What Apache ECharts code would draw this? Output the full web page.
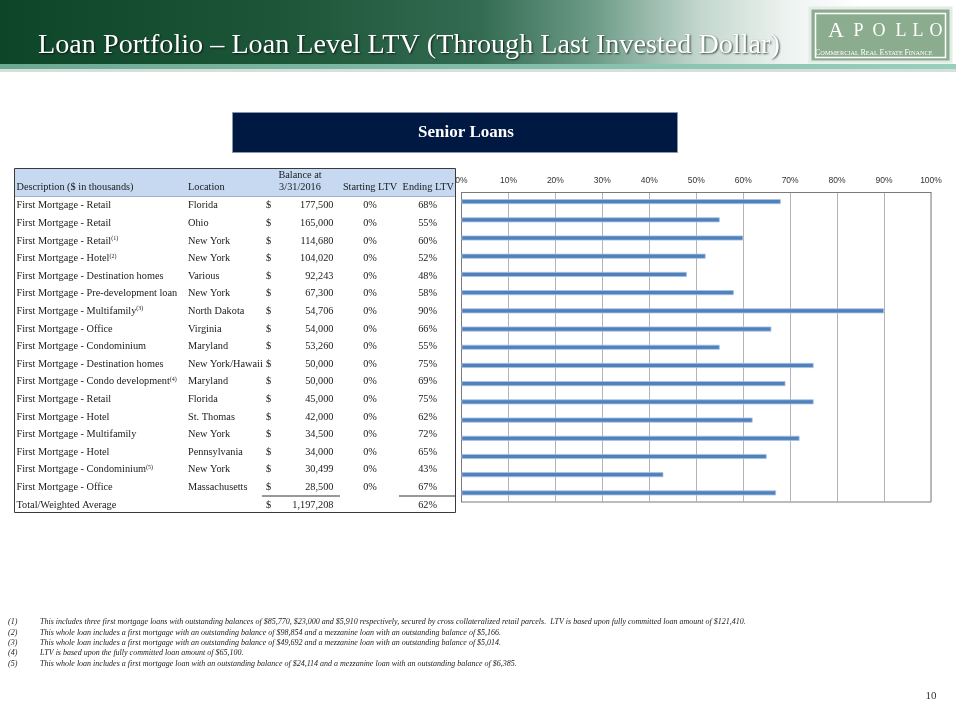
<!DOCTYPE html>
<html>
<head>
<meta charset="utf-8">
<title>Loan Portfolio – Loan Level LTV</title>
<style>
  html, body { margin: 0; padding: 0; background: #fff; }
  #chart { width: 960px; height: 720px; }
</style>
<script src="https://cdn.jsdelivr.net/npm/echarts@6/dist/echarts.min.js"></script>
</head>
<body>
<div id="chart"></div>
<script>
// table / chart data
const descriptions = [
    'First Mortgage - Retail', 'First Mortgage - Retail', 'First Mortgage - Retail',
    'First Mortgage - Hotel', 'First Mortgage - Destination homes', 'First Mortgage - Pre-development loan',
    'First Mortgage - Multifamily', 'First Mortgage - Office', 'First Mortgage - Condominium',
    'First Mortgage - Destination homes', 'First Mortgage - Condo development', 'First Mortgage - Retail',
    'First Mortgage - Hotel', 'First Mortgage - Multifamily', 'First Mortgage - Hotel',
    'First Mortgage - Condominium', 'First Mortgage - Office'
];
const notes = ['', '', '1', '2', '', '', '3', '', '', '', '4', '', '', '', '', '5', ''];
const locations = [
    'Florida', 'Ohio', 'New York', 'New York', 'Various', 'New York', 'North Dakota', 'Virginia',
    'Maryland', 'New York/Hawaii', 'Maryland', 'Florida', 'St. Thomas', 'New York', 'Pennsylvania',
    'New York', 'Massachusetts'
];
const balances = [177500, 165000, 114680, 104020, 92243, 67300, 54706, 54000, 53260, 50000, 50000, 45000, 42000, 34500, 34000, 30499, 28500];
const startLtv = [0, 0, 0, 0, 0, 0, 0, 0, 0, 0, 0, 0, 0, 0, 0, 0, 0];
const endLtv = [68, 55, 60, 52, 48, 58, 90, 66, 55, 75, 69, 75, 62, 72, 65, 43, 67];
const totalBalance = 1197208;
const totalLtv = 62;

const footnotes = [
    'This includes three first mortgage loans with outstanding balances of $85,770, $23,000 and $5,910 respectively, secured by cross collateralized retail parcels.  LTV is based upon fully committed loan amount of $121,410.',
    'This whole loan includes a first mortgage with an outstanding balance of $98,854 and a mezzanine loan with an outstanding balance of $5,166.',
    'This whole loan includes a first mortgage with an outstanding balance of $49,692 and a mezzanine loan with an outstanding balance of $5,014.',
    'LTV is based upon the fully committed loan amount of $65,100.',
    'This whole loan includes a first mortgage loan with an outstanding balance of $24,114 and a mezzanine loan with an outstanding balance of $6,385.'
];

const serif = '"Liberation Serif", "Times New Roman", serif';
const tableFont = 10.3;
const rowY = (i) => 205.7 + 17.6 * i;
const fmt = (v) => v.toLocaleString('en-US');

const chart = echarts.init(document.getElementById('chart'));

// header banner + logo
let graphics = [
    {
        type: 'rect', shape: { x: 0, y: 0, width: 960, height: 64 }, silent: true,
        style: {
            fill: new echarts.graphic.LinearGradient(0, 0, 1, 0, [
                { offset: 0, color: '#0D4529' },
                { offset: 0.3, color: '#1E5639' },
                { offset: 0.5, color: '#336B52' },
                { offset: 0.62, color: '#6E9C89' },
                { offset: 0.73, color: '#C3D7CE' },
                { offset: 0.82, color: '#EDF3F0' },
                { offset: 0.9, color: '#FFFFFF' },
                { offset: 1, color: '#FFFFFF' }
            ])
        }
    },
    {
        type: 'rect', shape: { x: 0, y: 64, width: 956, height: 5 }, silent: true,
        style: {
            fill: new echarts.graphic.LinearGradient(0, 0, 1, 0, [
                { offset: 0, color: '#6AAA93' },
                { offset: 1, color: '#98CFBD' }
            ])
        }
    },
    { type: 'rect', shape: { x: 0, y: 69, width: 956, height: 3 }, silent: true, style: { fill: '#D7DFDB' } },
    {
        type: 'text', x: 38, y: 46, silent: true,
        style: {
            text: 'Loan Portfolio – Loan Level LTV (Through Last Invested Dollar)',
            font: '28.2px ' + serif, fill: '#FFFFFF', verticalAlign: 'middle',
            textShadowColor: 'rgba(0,0,0,0.7)', textShadowBlur: 2, textShadowOffsetX: 1, textShadowOffsetY: 1
        }
    },
    { type: 'rect', shape: { x: 810, y: 8, width: 141, height: 54 }, silent: true, style: { fill: '#8BAC8E', stroke: '#E3ECE6', lineWidth: 3 } },
    { type: 'rect', shape: { x: 815.5, y: 13.5, width: 130, height: 44 }, silent: true, style: { fill: null, stroke: '#FFFFFF', lineWidth: 1.5 } },
    {
        type: 'text', x: 815, y: 53, silent: true,
        style: {
            text: '{b|C}{s|OMMERCIAL} {b|R}{s|EAL} {b|E}{s|STATE} {b|F}{s|INANCE}',
            font: '6.3px ' + serif, fill: '#FFFFFF', verticalAlign: 'middle',
            rich: {
                b: { fontSize: 8, fontFamily: serif, fill: '#FFFFFF' },
                s: { fontSize: 6.3, fontFamily: serif, fill: '#FFFFFF' }
            }
        }
    }
];
const logoLetters = ['A', 'P', 'O', 'L', 'L', 'O'];
const logoX = [836, 858.5, 879, 901, 918, 936];
logoLetters.forEach((ch, i) => {
    graphics.push({
        type: 'text', x: logoX[i], y: i === 0 ? 31 : 31.5, silent: true,
        style: { text: ch, font: (i === 0 ? '22px ' : '18px ') + serif, fill: '#FFFFFF', align: 'center', verticalAlign: 'middle' }
    });
});

// Senior Loans bar
graphics.push(
    { type: 'rect', shape: { x: 232.5, y: 112.5, width: 445, height: 40 }, silent: true, style: { fill: '#001943', stroke: '#8896AD', lineWidth: 1 } },
    {
        type: 'text', x: 466, y: 133, silent: true,
        style: { text: 'Senior Loans', font: 'bold 17px ' + serif, fill: '#FFFFFF', align: 'center', verticalAlign: 'middle' }
    }
);

// table frame + header
graphics.push(
    { type: 'rect', shape: { x: 14.5, y: 168.5, width: 441, height: 28 }, silent: true, style: { fill: '#C6D9F1' } },
    { type: 'rect', shape: { x: 14.5, y: 168.5, width: 441, height: 344 }, silent: true, style: { fill: null, stroke: '#3A3A3A', lineWidth: 1 } },
    { type: 'line', shape: { x1: 15, y1: 196.5, x2: 455, y2: 196.5 }, silent: true, style: { stroke: '#9FB3CC', lineWidth: 1 } }
);
const headStyle = { font: tableFont + 'px ' + serif, fill: '#1A1A1A', verticalAlign: 'middle' };
graphics.push(
    { type: 'text', x: 16.5, y: 187.5, silent: true, style: Object.assign({ text: 'Description ($ in thousands)' }, headStyle) },
    { type: 'text', x: 188, y: 187.5, silent: true, style: Object.assign({ text: 'Location' }, headStyle) },
    { type: 'text', x: 300, y: 175, silent: true, style: Object.assign({ text: 'Balance at', align: 'center' }, headStyle) },
    { type: 'text', x: 300, y: 187.5, silent: true, style: Object.assign({ text: '3/31/2016', align: 'center' }, headStyle) },
    { type: 'text', x: 370, y: 187.5, silent: true, style: Object.assign({ text: 'Starting LTV', align: 'center' }, headStyle) },
    { type: 'text', x: 454, y: 187.5, silent: true, style: Object.assign({ text: 'Ending LTV', align: 'right' }, headStyle) }
);

// table rows
const cell = (x, y, text, align) => ({
    type: 'text', x: x, y: y, silent: true,
    style: { text: text, font: tableFont + 'px ' + serif, fill: '#1A1A1A', align: align || 'left', verticalAlign: 'middle' }
});
descriptions.forEach((d, i) => {
    const y = rowY(i);
    graphics.push({
        type: 'text', x: 16.5, y: y, silent: true,
        style: {
            text: d + (notes[i] ? '{sup|(' + notes[i] + ')}' : ''),
            font: tableFont + 'px ' + serif, fill: '#1A1A1A', verticalAlign: 'middle',
            rich: { sup: { fontSize: 6, fontFamily: serif, fill: '#1A1A1A', verticalAlign: 'top', padding: [0, 0, 5, 0] } }
        }
    });
    graphics.push(cell(188, y, locations[i]));
    graphics.push(cell(266, y, '$'));
    graphics.push(cell(333.5, y, fmt(balances[i]), 'right'));
    graphics.push(cell(370, y, startLtv[i] + '%', 'center'));
    graphics.push(cell(437, y, endLtv[i] + '%', 'right'));
});
const totalY = 505.7;
graphics.push(
    { type: 'line', shape: { x1: 262, y1: 496, x2: 340, y2: 496 }, silent: true, style: { stroke: '#333', lineWidth: 1 } },
    { type: 'line', shape: { x1: 399, y1: 496, x2: 455, y2: 496 }, silent: true, style: { stroke: '#333', lineWidth: 1 } },
    cell(16.5, totalY, 'Total/Weighted Average'),
    cell(266, totalY, '$'),
    cell(333.5, totalY, fmt(totalBalance), 'right'),
    cell(437, totalY, totalLtv + '%', 'right')
);

// footnotes
footnotes.forEach((t, i) => {
    const y = 622 + 10.45 * i;
    graphics.push({
        type: 'text', x: 8, y: y, silent: true,
        style: { text: '(' + (i + 1) + ')', font: 'italic 8px ' + serif, fill: '#1A1A1A', verticalAlign: 'middle' }
    });
    graphics.push({
        type: 'text', x: 40, y: y, silent: true,
        style: { text: t, font: 'italic 8px ' + serif, fill: '#1A1A1A', verticalAlign: 'middle' }
    });
});

// page number
graphics.push({
    type: 'text', x: 931, y: 696, silent: true,
    style: { text: '10', font: '11px ' + serif, fill: '#333', align: 'center', verticalAlign: 'middle' }
});

chart.setOption({
    animation: false,
    backgroundColor: '#ffffff',
    grid: {
        left: 461.5,
        top: 192.5,
        width: 469.5,
        height: 309.5,
        show: true,
        borderColor: '#7A7A7A',
        borderWidth: 1
    },
    xAxis: {
        type: 'value',
        position: 'top',
        min: 0,
        max: 100,
        interval: 10,
        axisLine: { show: true, lineStyle: { color: '#7A7A7A', width: 1 } },
        axisTick: { show: false },
        axisLabel: {
            formatter: '{value}%',
            fontSize: 8.5,
            fontFamily: '"Liberation Sans", Arial, sans-serif',
            color: '#333',
            margin: 7
        },
        splitLine: { show: true, lineStyle: { color: '#B4B4B4', width: 1 } }
    },
    yAxis: {
        type: 'category',
        inverse: true,
        data: descriptions.map((d, i) => d + ' ' + locations[i]),
        axisLine: { show: true, lineStyle: { color: '#7A7A7A' } },
        axisTick: { show: false },
        axisLabel: { show: false },
        splitLine: { show: false }
    },
    series: [{
        type: 'bar',
        data: endLtv,
        barWidth: 5,
        silent: true,
        itemStyle: { color: '#4F81BD', borderColor: '#A8C2E2', borderWidth: 0.8 }
    }],
    graphic: graphics
});
</script>
</body>
</html>
